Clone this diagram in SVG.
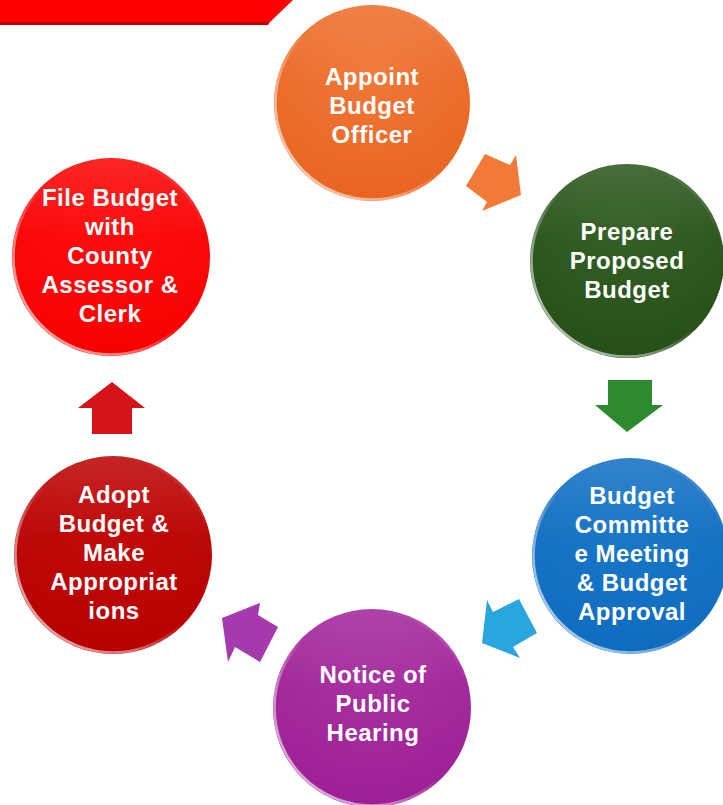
<svg xmlns="http://www.w3.org/2000/svg" width="723" height="805" viewBox="0 0 723 805">
<defs>
<style>
.lbl{font-family:"Liberation Sans",Arial,sans-serif;font-weight:bold;font-size:24px;letter-spacing:0.5px;fill:#ffffff;text-anchor:middle}
.rim{fill:none;stroke:url(#rim);stroke-width:2.5}
.gloss{fill:url(#gloss)}
</style>
<linearGradient id="rim" x1="0" y1="1" x2="1" y2="0">
<stop offset="0" stop-color="#fff" stop-opacity="0.8"/>
<stop offset="0.3" stop-color="#fff" stop-opacity="0.45"/>
<stop offset="0.5" stop-color="#fff" stop-opacity="0"/>
<stop offset="0.8" stop-color="#fff" stop-opacity="0"/>
<stop offset="1" stop-color="#fff" stop-opacity="0.35"/>
</linearGradient>
<linearGradient id="gloss" x1="0" y1="0" x2="0" y2="1">
<stop offset="0" stop-color="#fff" stop-opacity="0.14"/>
<stop offset="0.4" stop-color="#fff" stop-opacity="0.03"/>
<stop offset="1" stop-color="#fff" stop-opacity="0"/>
</linearGradient>
<radialGradient id="gOrange" cx="50%" cy="35%" r="65%"><stop offset="0" stop-color="#EF7331"/><stop offset="1" stop-color="#EA6420"/></radialGradient>
<radialGradient id="gGreen" cx="50%" cy="35%" r="65%"><stop offset="0" stop-color="#2D5B1D"/><stop offset="1" stop-color="#264F17"/></radialGradient>
<radialGradient id="gBlue" cx="50%" cy="35%" r="65%"><stop offset="0" stop-color="#1373C6"/><stop offset="1" stop-color="#0E6CC0"/></radialGradient>
<radialGradient id="gPurple" cx="50%" cy="35%" r="65%"><stop offset="0" stop-color="#A52C9E"/><stop offset="1" stop-color="#9E1E96"/></radialGradient>
<radialGradient id="gDark" cx="50%" cy="35%" r="65%"><stop offset="0" stop-color="#C00303"/><stop offset="1" stop-color="#B80000"/></radialGradient>
<radialGradient id="gRed" cx="50%" cy="35%" r="65%"><stop offset="0" stop-color="#FF0505"/><stop offset="1" stop-color="#F80000"/></radialGradient>
</defs>

<g id="banner">
<polygon points="0,0 293,0 270,22 0,22" fill="#FF0000"/>
<polygon points="0,22 270,22 268,25 0,25" fill="#C00000"/>
</g>

<g id="connectors">
<polygon points="485,154 510,165 516,155 521,195 482,211 487,202 466,186" fill="#F07A36"/>
<polygon points="608,380 652,380 652,405 663,405 627,432 595,405 608,405" fill="#2E8A2E"/>
<polygon points="487,600 493,612 519,599 537,633 513,647 520,658 482,643" fill="#2AA6DE"/>
<polygon points="222,618 260,603 258,615 278,627 260,662 235,647 228,662" fill="#A53AAE"/>
<polygon points="112,382 145,408 132,408 132,434 92,434 92,408 78,408" fill="#D4141A"/>
</g>

<g id="n1">
<circle cx="372" cy="103" r="98" fill="url(#gOrange)"/>
<circle cx="372" cy="103" r="98" class="gloss"/>
<circle cx="372" cy="103" r="96.5" class="rim"/>
<text class="lbl" x="372" y="85">Appoint</text>
<text class="lbl" x="372" y="114">Budget</text>
<text class="lbl" x="372" y="143">Officer</text>
</g>

<g id="n2">
<circle cx="627" cy="261" r="97" fill="url(#gGreen)"/>
<circle cx="627" cy="261" r="97" class="gloss"/>
<circle cx="627" cy="261" r="95.5" class="rim"/>
<text class="lbl" x="627" y="240">Prepare</text>
<text class="lbl" x="627" y="269">Proposed</text>
<text class="lbl" x="627" y="298">Budget</text>
</g>

<g id="n3">
<circle cx="630" cy="556" r="98" fill="url(#gBlue)"/>
<circle cx="630" cy="556" r="98" class="gloss"/>
<circle cx="630" cy="556" r="96.5" class="rim"/>
<text class="lbl" x="632" y="504">Budget</text>
<text class="lbl" x="632" y="533">Committe</text>
<text class="lbl" x="632" y="562">e Meeting</text>
<text class="lbl" x="632" y="591">&amp; Budget</text>
<text class="lbl" x="632" y="620">Approval</text>
</g>

<g id="n4">
<circle cx="372" cy="708" r="99" fill="url(#gPurple)"/>
<circle cx="372" cy="708" r="99" class="gloss"/>
<circle cx="372" cy="708" r="97.5" class="rim"/>
<text class="lbl" x="373" y="683">Notice of</text>
<text class="lbl" x="373" y="712">Public</text>
<text class="lbl" x="373" y="741">Hearing</text>
</g>

<g id="n5">
<circle cx="113" cy="555" r="99" fill="url(#gDark)"/>
<circle cx="113" cy="555" r="99" class="gloss"/>
<circle cx="113" cy="555" r="97.5" class="rim"/>
<text class="lbl" x="114" y="503">Adopt</text>
<text class="lbl" x="114" y="532">Budget &amp;</text>
<text class="lbl" x="114" y="561">Make</text>
<text class="lbl" x="114" y="590">Appropriat</text>
<text class="lbl" x="114" y="619">ions</text>
</g>

<g id="n6">
<circle cx="111" cy="257" r="99" fill="url(#gRed)"/>
<circle cx="111" cy="257" r="99" class="gloss"/>
<circle cx="111" cy="257" r="97.5" class="rim"/>
<text class="lbl" x="110" y="206">File Budget</text>
<text class="lbl" x="110" y="235">with</text>
<text class="lbl" x="110" y="264">County</text>
<text class="lbl" x="110" y="293">Assessor &amp;</text>
<text class="lbl" x="110" y="322">Clerk</text>
</g>
</svg>
